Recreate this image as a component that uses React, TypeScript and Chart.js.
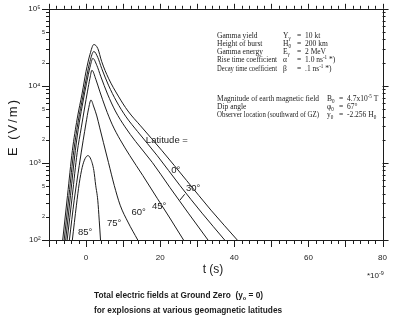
import React, { useEffect, useRef } from 'react';
import { Chart, registerables } from 'chart.js';
Chart.register(...registerables);

// Latitude labels for each curve
const latitudes = ['0°', '30°', '45°', '60°', '75°', '85°'];

// time (ns) and E (V/m), per latitude
const tLat0 = [-6.3, -5.0, -3.7, -2.4, -1.05, 0, 1.05, 2.1, 3.16, 4.2, 6.05, 8.7, 11.3, 14.7, 20.5, 27.1, 33.7, 40.8];
const eLat0 = [100, 380, 1440, 3730, 8050, 15460, 25590, 34400, 30570, 20790, 12570, 7370, 4720, 3030, 1440, 594, 244, 100];

const tLat30 = [-5.9, -4.6, -3.3, -2.1, -0.9, 0.13, 1.05, 2.1, 3.16, 4.2, 6.05, 8.16, 10.8, 13.95, 19.2, 25.3, 31.3, 37.4];
const eLat30 = [100, 380, 1440, 3510, 7150, 12940, 20790, 27960, 23410, 16900, 10210, 6360, 3960, 2540, 1245, 512, 223, 100];

const tLat45 = [-5.5, -4.2, -2.9, -1.84, -0.79, 0.13, 1.05, 1.84, 2.9, 3.95, 5.8, 7.9, 10.5, 13.4, 17.9, 22.6, 27.6, 32.9];
const eLat45 = [100, 380, 1440, 3310, 6360, 10830, 17400, 22730, 18470, 13330, 7820, 4720, 2940, 1890, 1012, 482, 223, 100];

const tLat60 = [-5.1, -3.7, -2.4, -1.3, -0.4, 0.4, 1.05, 1.58, 2.63, 3.68, 5.26, 7.1, 9.2, 11.8, 15.3, 19.2, 22.6, 26.3];
const eLat60 = [100, 380, 1360, 2850, 5160, 8550, 12570, 15930, 12200, 8550, 5160, 3120, 2000, 1245, 688, 348, 193, 100];

const tLat75 = [-4.5, -3.2, -1.84, -0.8, 0, 0.66, 1.32, 2.1, 2.9, 3.7, 4.7, 6.05, 7.6, 9.2, 11.3, 13.95];
const eLat75 = [100, 328, 926, 1940, 3310, 5010, 6550, 5320, 4070, 2850, 1830, 1012, 512, 283, 171, 100];

const tLat85 = [-3.7, -2.6, -1.84, -1.05, -0.26, 0.53, 1.32, 2.1, 2.6, 3.16, 3.55, 3.9];
const eLat85 = [100, 283, 543, 873, 1140, 1245, 1106, 798, 512, 328, 181, 100];

const xTickLabels = [0, 20, 40, 60, 80];
const yTickValues = [100, 200, 500, 1000, 2000, 5000, 10000, 20000, 50000, 100000];
const X_MIN = -10;
const X_MAX = 80;
const Y_MIN = 100;
const Y_MAX = 100000;

const series = [
  { t: tLat0, e: eLat0 },
  { t: tLat30, e: eLat30 },
  { t: tLat45, e: eLat45 },
  { t: tLat60, e: eLat60 },
  { t: tLat75, e: eLat75 },
  { t: tLat85, e: eLat85 },
];

const SUP: Record<string, string> = { '2': '²', '3': '³', '4': '⁴', '5': '⁵' };
const INK = '#1c1c1c';
const SANS = '"Liberation Sans", Arial, sans-serif';
const SERIF = '"Liberation Serif", "Times New Roman", serif';

type Seg = [string, 'n' | 'sub' | 'sup'];

function drawSegs(ctx: CanvasRenderingContext2D, x: number, y: number, segs: Seg[], size: number, family: string, weight = '', maxWidth?: number) {
  let cx = x;
  for (const [txt, kind] of segs) {
    const fs = kind === 'n' ? size : size * 0.68;
    ctx.font = `${weight} ${fs}px ${family}`;
    const dy = kind === 'sub' ? size * 0.3 : kind === 'sup' ? -size * 0.35 : 0;
    const w = ctx.measureText(txt).width;
    if (maxWidth !== undefined && w > maxWidth) {
      ctx.fillText(txt, cx, y + dy, maxWidth);
      cx += maxWidth;
    } else {
      ctx.fillText(txt, cx, y + dy);
      cx += w;
    }
  }
  return cx;
}

function mantissa(v: number) {
  const d = Math.floor(Math.log10(v) + 1e-9);
  return { d, m: Math.round(v / Math.pow(10, d)) };
}

export default function App() {
  const ref = useRef<HTMLCanvasElement>(null);
  useEffect(() => {
    const canvas = ref.current!;
    const overlay = {
      id: 'overlay',
      afterDraw(chart: any) {
        const ctx: CanvasRenderingContext2D = chart.ctx;
        const { left, right, top, bottom } = chart.chartArea;
        const xs = chart.scales.x;
        const ys = chart.scales.y;
        ctx.save();
        ctx.strokeStyle = INK;
        ctx.fillStyle = INK;
        ctx.lineWidth = 1;
        // frame
        ctx.strokeRect(Math.round(left) + 0.5, Math.round(top) + 0.5, Math.round(right - left), Math.round(bottom - top));
        // x ticks
        ctx.beginPath();
        for (let v = X_MIN; v <= X_MAX; v += 2) {
          const px = Math.round(xs.getPixelForValue(v)) + 0.5;
          const major = v % 10 === 0;
          ctx.moveTo(px, bottom);
          ctx.lineTo(px, bottom + (major ? 7 : 4));
          ctx.moveTo(px, top);
          ctx.lineTo(px, top - (major ? 5 : 3));
        }
        // y ticks
        for (let d = 2; d <= 5; d++) {
          for (let m = 1; m <= 9; m++) {
            const v = m * Math.pow(10, d);
            if (v > Y_MAX) break;
            const py = Math.round(ys.getPixelForValue(v)) + 0.5;
            const major = m === 1;
            ctx.moveTo(left, py);
            ctx.lineTo(left - (major ? 7 : 3), py);
            ctx.moveTo(right, py);
            ctx.lineTo(right + (major ? 6 : 3), py);
          }
        }
        ctx.stroke();

        // curve labels
        const P = (t: number, e: number) => [xs.getPixelForValue(t), ys.getPixelForValue(e)];
        ctx.textAlign = 'center';
        ctx.textBaseline = 'middle';
        ctx.font = `9.5px ${SANS}`;
        const [lx, ly] = P(21.8, 1940);
        ctx.fillText('Latitude =', lx, ly);
        const labelPos: [number, number][] = [[24.2, 798], [28.9, 468], [19.7, 275], [14.2, 230], [7.6, 166], [-0.26, 127]];
        latitudes.forEach((lab, i) => {
          const [px, py] = P(labelPos[i][0], labelPos[i][1]);
          ctx.fillText(lab, px, py);
        });
        // 30° pointer
        const [a1, b1] = P(25.3, 328);
        const [a2, b2] = P(26.6, 392);
        ctx.beginPath();
        ctx.moveTo(a1, b1);
        ctx.lineTo(a2, b2);
        ctx.stroke();

        // parameter block (serif)
        ctx.textAlign = 'left';
        const fs = 7.5;
        const rows1: [string, Seg[], Seg[], number][] = [
          ['Gamma yield', [['Y', 'n'], ['γ', 'sub']], [['10 kt', 'n']], 36],
          ['Height of burst', [['H', 'n'], ['0', 'sub']], [['200 km', 'n']], 44],
          ['Gamma energy', [['E', 'n'], ['γ', 'sub']], [['2 MeV', 'n']], 52],
          ['Rise time coefficient', [['α', 'n']], [['1.0 ns', 'n'], ['-1', 'sup'], [' *)', 'n']], 60.5],
          ['Decay time coefficient', [['β', 'n']], [['.1 ns', 'n'], ['-1', 'sup'], [' *)', 'n']], 69],
        ];
        for (const [lab, sym, val, y] of rows1) {
          drawSegs(ctx, 217, y, [[lab, 'n']], fs, SERIF, '', 283 - 217 - 6);
          drawSegs(ctx, 283, y, sym, fs, SERIF);
          drawSegs(ctx, 297, y, [['=', 'n']], fs, SERIF);
          drawSegs(ctx, 305, y, val, fs, SERIF);
        }
        const rows2: [string, Seg[], Seg[], number][] = [
          ['Magnitude of earth magnetic field', [['B', 'n'], ['0', 'sub']], [['4.7x10', 'n'], ['-5', 'sup'], [' T', 'n']], 99],
          ['Dip angle', [['φ', 'n'], ['0', 'sub']], [['67°', 'n']], 107],
          ['Observer location (southward of GZ)', [['y', 'n'], ['0', 'sub']], [['-2.256 H', 'n'], ['0', 'sub']], 115],
        ];
        for (const [lab, sym, val, y] of rows2) {
          drawSegs(ctx, 217, y, [[lab, 'n']], fs, SERIF, '', 327 - 217 - 8);
          drawSegs(ctx, 327, y, sym, fs, SERIF);
          drawSegs(ctx, 339, y, [['=', 'n']], fs, SERIF);
          drawSegs(ctx, 347, y, val, fs, SERIF);
        }

        // axis titles
        ctx.textAlign = 'center';
        ctx.font = `12px ${SANS}`;
        ctx.fillText('t (s)', 213, 270);
        ctx.save();
        ctx.translate(13, 127);
        ctx.rotate(-Math.PI / 2);
        ctx.font = `13px ${SANS}`;
        (ctx as any).letterSpacing = '2px';
        ctx.fillText('E (V/m)', 0, 0);
        ctx.restore();

        ctx.textAlign = 'left';
        drawSegs(ctx, 367, 276, [['*10', 'n'], ['-9', 'sup']], 8, SANS);

        // caption
        drawSegs(ctx, 94, 296, [['Total electric fields at Ground Zero  (y', 'n'], ['o', 'sub'], [' = 0)', 'n']], 8.3, SANS, 'bold');
        drawSegs(ctx, 94, 311, [['for explosions at various geomagnetic latitudes', 'n']], 8.3, SANS, 'bold');
        ctx.restore();
      },
    };

    const chart = new Chart(canvas, {
      type: 'line',
      data: {
        datasets: series.map((s, i) => ({
          label: latitudes[i],
          data: s.t.map((t, j) => ({ x: t, y: s.e[j] })),
          borderColor: INK,
          borderWidth: 1,
          pointRadius: 0,
          fill: false,
          cubicInterpolationMode: 'monotone' as const,
        })),
      },
      options: {
        responsive: false,
        animation: false,
        events: [],
        layout: { padding: { top: 7, right: 8, left: 0, bottom: 0 } },
        plugins: { legend: { display: false }, tooltip: { enabled: false }, title: { display: false } },
        scales: {
          x: {
            type: 'linear',
            min: X_MIN,
            max: X_MAX,
            grid: { display: false, drawTicks: false },
            border: { display: false },
            ticks: {
              stepSize: 10,
              autoSkip: false,
              maxRotation: 0,
              padding: 13,
              color: INK,
              font: { size: 8, family: SANS },
              callback: (v: any) => (xTickLabels.includes(Number(v)) ? String(v) : ''),
            },
            afterFit: (s: any) => { s.height = 81; },
          },
          y: {
            type: 'logarithmic',
            min: Y_MIN,
            max: Y_MAX,
            grid: { display: false, drawTicks: false },
            border: { display: false },
            afterBuildTicks: (s: any) => { s.ticks = yTickValues.map((v) => ({ value: v })); },
            ticks: {
              autoSkip: false,
              padding: 4,
              color: INK,
              font: (c: any) => {
                const v = c.tick ? c.tick.value : 100;
                return { size: mantissa(v).m === 1 ? 8 : 5.5, family: SANS };
              },
              callback: (v: any) => {
                const { d, m } = mantissa(Number(v));
                if (m === 1) return '10' + (SUP[String(d)] || '') + '  ';
                return String(m);
              },
            },
            afterFit: (s: any) => { s.width = 49; },
          },
        },
      },
      plugins: [overlay],
    });
    return () => chart.destroy();
  }, []);
  return (
    <div style={{ position: 'absolute', left: 0, top: 0, width: 400, height: 321, background: '#fff' }}>
      <canvas ref={ref} width={400} height={321} style={{ width: 400, height: 321, display: 'block' }} />
    </div>
  );
}
